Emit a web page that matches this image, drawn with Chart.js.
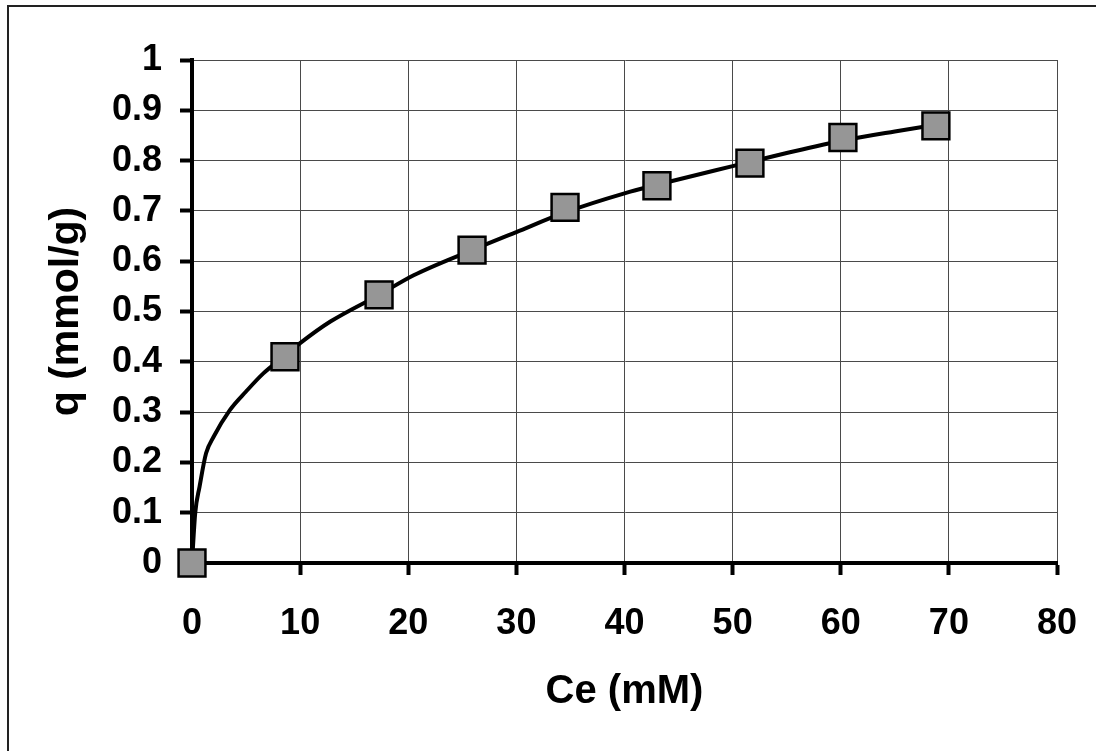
<!DOCTYPE html>
<html>
<head>
<meta charset="utf-8">
<script src="https://cdn.jsdelivr.net/npm/chart.js@4/dist/chart.umd.min.js"></script>
<style>
  html, body { margin: 0; padding: 0; background: #fff; }
  #wrap { width: 1096px; height: 751px; }
</style>
</head>
<body>
<div id="wrap"><canvas id="isotherm" width="1096" height="751"></canvas></div>
<script>
// measured points (squares)
var ceValues = [0, 8.6, 17.3, 25.9, 34.5, 43.0, 51.6, 60.2, 68.8];
var qValues = [0, 0.41, 0.533, 0.622, 0.707, 0.75, 0.795, 0.846, 0.869];

// fitted curve
var fitCe = [0, 0.3, 0.7, 1.3, 2, 3.5, 5, 6.6, 8.6, 10, 12.8, 17.3, 20.5, 25.9, 30, 34.5, 40, 43, 50, 55, 60.2, 65, 68.8];
var fitQ = [0, 0.10, 0.152, 0.218, 0.251, 0.304, 0.341, 0.377, 0.412, 0.437, 0.48, 0.533, 0.572, 0.622, 0.658, 0.697, 0.735, 0.752, 0.789, 0.815, 0.840, 0.858, 0.871];

var xTickLabels = ['0', '10', '20', '30', '40', '50', '60', '70', '80'];
var yTickLabels = ['0', '0.1', '0.2', '0.3', '0.4', '0.5', '0.6', '0.7', '0.8', '0.9', '1'];

var FONT = '"Liberation Sans", Arial, sans-serif';

function toPoints(xs, ys) {
  return xs.map(function (x, i) { return { x: x, y: ys[i] }; });
}

// outer frame (only left and top edges show in the picture)
var framePlugin = {
  id: 'frame',
  beforeDraw: function (chart) {
    var ctx = chart.ctx;
    ctx.save();
    ctx.strokeStyle = '#222';
    ctx.lineWidth = 2;
    ctx.beginPath();
    ctx.moveTo(8, 751);
    ctx.lineTo(8, 6);
    ctx.lineTo(1096, 6);
    ctx.stroke();
    ctx.restore();
  }
};

new Chart(document.getElementById('isotherm'), {
  type: 'scatter',
  data: {
    datasets: [{
      label: 'data',
      data: toPoints(ceValues, qValues),
      pointStyle: 'rect',
      pointRadius: 19,
      pointHoverRadius: 19,
      backgroundColor: '#969696',
      borderColor: '#000',
      borderWidth: 2.5,
      clip: false
    }, {
      label: 'fit',
      data: toPoints(fitCe, fitQ),
      showLine: true,
      borderColor: '#000',
      borderWidth: 4,
      pointRadius: 0,
      cubicInterpolationMode: 'monotone',
      fill: false
    }]
  },
  options: {
    responsive: false,
    animation: false,
    layout: { padding: { left: 42, right: 39, top: 60, bottom: 35 } },
    plugins: { legend: { display: false }, tooltip: { enabled: false } },
    scales: {
      x: {
        type: 'linear',
        min: 0,
        max: 80,
        afterFit: function (scale) {
          scale.height = 153;
          scale.paddingLeft = 0;
          scale.paddingRight = 0;
        },
        border: { color: '#000', width: 4 },
        grid: { color: '#4a4a4a', lineWidth: 1, tickLength: 12, tickWidth: 4, tickColor: '#000' },
        ticks: {
          stepSize: 10,
          padding: 27,
          color: '#000',
          font: { family: FONT, size: 36, weight: 'bold' },
          callback: function (v, i) { return xTickLabels[i]; }
        },
        title: {
          display: true,
          text: 'Ce (mM)',
          color: '#000',
          padding: 0,
          font: { family: FONT, size: 40, weight: 'bold' }
        }
      },
      y: {
        type: 'linear',
        min: 0,
        max: 1,
        afterFit: function (scale) { scale.width = 150; },
        border: { color: '#000', width: 4 },
        grid: { color: '#4a4a4a', lineWidth: 1, tickLength: 12, tickWidth: 4, tickColor: '#000' },
        ticks: {
          stepSize: 0.1,
          padding: 18,
          color: '#000',
          font: { family: FONT, size: 36, weight: 'bold' },
          callback: function (v, i) { return yTickLabels[i]; }
        },
        title: {
          display: true,
          text: 'q (mmol/g)',
          color: '#000',
          padding: 0,
          font: { family: FONT, size: 41, weight: 'bold' }
        }
      }
    }
  },
  plugins: [framePlugin]
});
</script>
</body>
</html>
